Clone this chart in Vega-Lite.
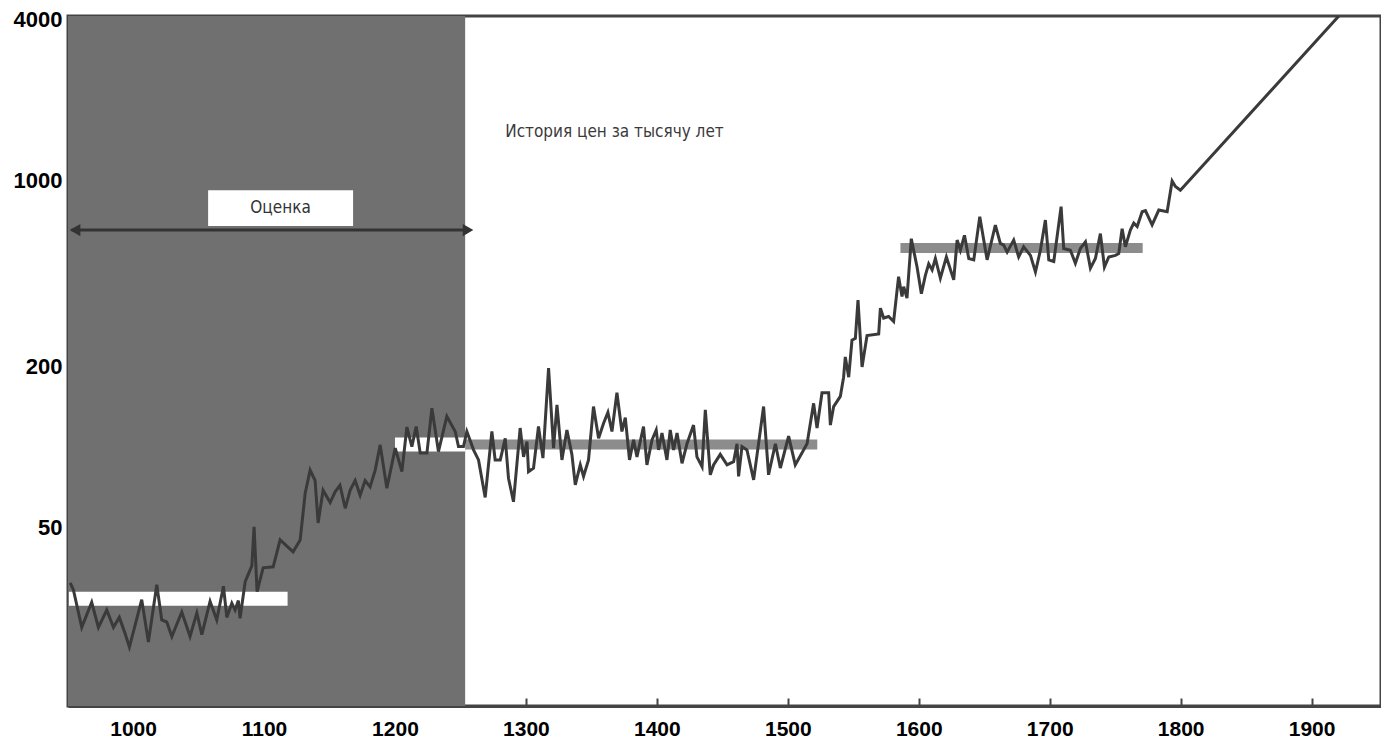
{
  "$schema": "https://vega.github.io/schema/vega-lite/v6.json",
  "width": 1313,
  "height": 690,
  "padding": {"left": 68, "top": 16, "right": 0, "bottom": 35},
  "autosize": {"type": "none"},
  "background": "#ffffff",
  "config": {
    "view": {"stroke": "#444444", "strokeWidth": 3},
    "axis": {
      "grid": false,
      "title": null,
      "labelFont": "Liberation Sans",
      "labelFontWeight": "bold",
      "labelFontSize": 21,
      "labelColor": "#000000",
      "tickColor": "#444444",
      "tickWidth": 2,
      "tickSize": -8,
      "domainColor": "#444444",
      "domainWidth": 3
    }
  },
  "datasets": {
    "prices": [
      {"year": 952.0, "price": 31.0},
      {"year": 954.4, "price": 29.2},
      {"year": 960.8, "price": 21.1},
      {"year": 968.4, "price": 26.2},
      {"year": 973.5, "price": 21.1},
      {"year": 979.9, "price": 24.5},
      {"year": 985.0, "price": 21.1},
      {"year": 989.5, "price": 23.0},
      {"year": 993.9, "price": 20.0},
      {"year": 997.2, "price": 17.8},
      {"year": 1006.6, "price": 26.8},
      {"year": 1011.7, "price": 18.6},
      {"year": 1018.1, "price": 30.5},
      {"year": 1021.9, "price": 22.5},
      {"year": 1025.7, "price": 22.1},
      {"year": 1029.6, "price": 19.5},
      {"year": 1037.2, "price": 24.1},
      {"year": 1043.5, "price": 19.5},
      {"year": 1048.7, "price": 23.9},
      {"year": 1052.5, "price": 19.8},
      {"year": 1058.8, "price": 26.4},
      {"year": 1063.9, "price": 22.5},
      {"year": 1069.0, "price": 30.1},
      {"year": 1071.6, "price": 23.0},
      {"year": 1075.4, "price": 26.0},
      {"year": 1077.9, "price": 24.5},
      {"year": 1080.4, "price": 26.6},
      {"year": 1081.7, "price": 22.8},
      {"year": 1085.6, "price": 31.3},
      {"year": 1090.7, "price": 35.9},
      {"year": 1092.4, "price": 50.3},
      {"year": 1094.7, "price": 28.7},
      {"year": 1099.3, "price": 35.3},
      {"year": 1107.0, "price": 35.6},
      {"year": 1112.3, "price": 44.9},
      {"year": 1122.2, "price": 40.5},
      {"year": 1127.6, "price": 44.9},
      {"year": 1131.4, "price": 67},
      {"year": 1135.2, "price": 82},
      {"year": 1139.0, "price": 75},
      {"year": 1141.3, "price": 52},
      {"year": 1145.1, "price": 69},
      {"year": 1150.5, "price": 62},
      {"year": 1154.3, "price": 68},
      {"year": 1158.0, "price": 72},
      {"year": 1162.0, "price": 59},
      {"year": 1165.8, "price": 69},
      {"year": 1169.6, "price": 75},
      {"year": 1173.4, "price": 66},
      {"year": 1177.2, "price": 75},
      {"year": 1181.0, "price": 71},
      {"year": 1184.9, "price": 82},
      {"year": 1188.7, "price": 102},
      {"year": 1193.8, "price": 70.2},
      {"year": 1200.2, "price": 99.2},
      {"year": 1205.3, "price": 81.0},
      {"year": 1209.1, "price": 119},
      {"year": 1212.9, "price": 100.5},
      {"year": 1216.2, "price": 119.5},
      {"year": 1219.3, "price": 95},
      {"year": 1224.4, "price": 95},
      {"year": 1228.2, "price": 140},
      {"year": 1233.2, "price": 96.3},
      {"year": 1239.6, "price": 130.5},
      {"year": 1246.0, "price": 114.5},
      {"year": 1248.5, "price": 100.5},
      {"year": 1252.3, "price": 100.5},
      {"year": 1254.9, "price": 114.5},
      {"year": 1260.0, "price": 97.7},
      {"year": 1263.8, "price": 89.6},
      {"year": 1268.9, "price": 64.8},
      {"year": 1274.0, "price": 114.5},
      {"year": 1276.5, "price": 89.6},
      {"year": 1280.4, "price": 89.6},
      {"year": 1284.2, "price": 108},
      {"year": 1286.7, "price": 76.5},
      {"year": 1290.5, "price": 62.4},
      {"year": 1295.6, "price": 118},
      {"year": 1298.2, "price": 92},
      {"year": 1300.8, "price": 105},
      {"year": 1302.0, "price": 81},
      {"year": 1305.8, "price": 83.5},
      {"year": 1309.6, "price": 119.5},
      {"year": 1313.0, "price": 91},
      {"year": 1317.3, "price": 198},
      {"year": 1321.1, "price": 99.2},
      {"year": 1323.7, "price": 144},
      {"year": 1327.5, "price": 89.6},
      {"year": 1331.3, "price": 116},
      {"year": 1335.1, "price": 94},
      {"year": 1337.7, "price": 72.2},
      {"year": 1341.5, "price": 85.8},
      {"year": 1344.0, "price": 77.7},
      {"year": 1347.8, "price": 89.6},
      {"year": 1351.6, "price": 142},
      {"year": 1355.5, "price": 108},
      {"year": 1359.3, "price": 123},
      {"year": 1362.6, "price": 135},
      {"year": 1365.7, "price": 114.5},
      {"year": 1369.5, "price": 160},
      {"year": 1373.3, "price": 114.5},
      {"year": 1375.9, "price": 129},
      {"year": 1379.1, "price": 89.6},
      {"year": 1382.2, "price": 106.5},
      {"year": 1384.8, "price": 92},
      {"year": 1389.8, "price": 119.5},
      {"year": 1392.4, "price": 85.8},
      {"year": 1396.3, "price": 106.5},
      {"year": 1399.5, "price": 116},
      {"year": 1401.3, "price": 97.7},
      {"year": 1403.9, "price": 113},
      {"year": 1407.7, "price": 89.6},
      {"year": 1410.2, "price": 116},
      {"year": 1412.8, "price": 97.7},
      {"year": 1415.4, "price": 113},
      {"year": 1419.2, "price": 87},
      {"year": 1423.0, "price": 103},
      {"year": 1428.0, "price": 121},
      {"year": 1430.6, "price": 92},
      {"year": 1434.5, "price": 84.5},
      {"year": 1437.0, "price": 138},
      {"year": 1440.8, "price": 78.8},
      {"year": 1443.3, "price": 85.8},
      {"year": 1448.4, "price": 94},
      {"year": 1453.6, "price": 85.8},
      {"year": 1458.6, "price": 88.2},
      {"year": 1461.2, "price": 103},
      {"year": 1462.4, "price": 77.7},
      {"year": 1465.0, "price": 100.5},
      {"year": 1468.8, "price": 97.7},
      {"year": 1473.9, "price": 75.4},
      {"year": 1481.5, "price": 142},
      {"year": 1485.3, "price": 78.8},
      {"year": 1490.5, "price": 103},
      {"year": 1494.3, "price": 83.5},
      {"year": 1500.6, "price": 110},
      {"year": 1505.7, "price": 85.8},
      {"year": 1514.7, "price": 103},
      {"year": 1519.7, "price": 146},
      {"year": 1522.3, "price": 118},
      {"year": 1526.1, "price": 160},
      {"year": 1531.2, "price": 160},
      {"year": 1532.5, "price": 121},
      {"year": 1535.0, "price": 142},
      {"year": 1540.1, "price": 155},
      {"year": 1542.6, "price": 183},
      {"year": 1543.9, "price": 218},
      {"year": 1546.5, "price": 183},
      {"year": 1549.0, "price": 252},
      {"year": 1551.6, "price": 256},
      {"year": 1553.6, "price": 356},
      {"year": 1556.7, "price": 200},
      {"year": 1560.5, "price": 262},
      {"year": 1569.4, "price": 266},
      {"year": 1570.7, "price": 332},
      {"year": 1573.2, "price": 305},
      {"year": 1577.0, "price": 309},
      {"year": 1580.8, "price": 296},
      {"year": 1584.6, "price": 436},
      {"year": 1587.2, "price": 367},
      {"year": 1588.5, "price": 400},
      {"year": 1591.0, "price": 362},
      {"year": 1594.3, "price": 605},
      {"year": 1598.7, "price": 474},
      {"year": 1602.0, "price": 376},
      {"year": 1605.0, "price": 440},
      {"year": 1607.6, "price": 487},
      {"year": 1610.2, "price": 462},
      {"year": 1612.7, "price": 510},
      {"year": 1616.5, "price": 430},
      {"year": 1621.1, "price": 517},
      {"year": 1626.7, "price": 424},
      {"year": 1629.3, "price": 598},
      {"year": 1631.8, "price": 548},
      {"year": 1634.9, "price": 623},
      {"year": 1638.2, "price": 510},
      {"year": 1642.0, "price": 504},
      {"year": 1646.6, "price": 732},
      {"year": 1652.2, "price": 504},
      {"year": 1658.5, "price": 681},
      {"year": 1662.3, "price": 581},
      {"year": 1664.9, "price": 572},
      {"year": 1667.5, "price": 539},
      {"year": 1672.5, "price": 598},
      {"year": 1676.3, "price": 517},
      {"year": 1680.1, "price": 564},
      {"year": 1685.3, "price": 524},
      {"year": 1689.1, "price": 454},
      {"year": 1692.9, "price": 548},
      {"year": 1696.7, "price": 711},
      {"year": 1699.3, "price": 504},
      {"year": 1703.1, "price": 497},
      {"year": 1708.7, "price": 798},
      {"year": 1710.7, "price": 556},
      {"year": 1715.8, "price": 548},
      {"year": 1719.6, "price": 489},
      {"year": 1723.4, "price": 556},
      {"year": 1727.3, "price": 589},
      {"year": 1731.1, "price": 469},
      {"year": 1734.9, "price": 510},
      {"year": 1738.7, "price": 632},
      {"year": 1741.8, "price": 474},
      {"year": 1745.1, "price": 517},
      {"year": 1750.2, "price": 524},
      {"year": 1752.7, "price": 532},
      {"year": 1755.3, "price": 660},
      {"year": 1757.8, "price": 564},
      {"year": 1761.6, "price": 652},
      {"year": 1764.2, "price": 692},
      {"year": 1766.8, "price": 672},
      {"year": 1770.6, "price": 764},
      {"year": 1773.1, "price": 771},
      {"year": 1778.2, "price": 682},
      {"year": 1783.3, "price": 775},
      {"year": 1789.7, "price": 764},
      {"year": 1793.5, "price": 995},
      {"year": 1796.0, "price": 950},
      {"year": 1799.8, "price": 920},
      {"year": 1920.8, "price": 4140}
    ]
  },
  "encoding": {
    "x": {
      "type": "quantitative",
      "scale": {"domain": [950.3, 1953], "nice": false, "zero": false},
      "axis": {"values": [1000, 1100, 1200, 1300, 1400, 1500, 1600, 1700, 1800, 1900], "format": "d", "labelPadding": 20}
    },
    "y": {
      "type": "quantitative",
      "scale": {"type": "log", "domain": [10.7, 4140], "nice": false},
      "axis": {"values": [50, 200, 1000, 4000], "format": "d", "labelPadding": 14, "labelFontSize": 22}
    }
  },
  "layer": [
    {
      "data": {"values": [{"from": 950.3, "to": 1253.6}]},
      "mark": {"type": "rect", "color": "#707070"},
      "encoding": {"x": {"field": "from"}, "x2": {"field": "to"}}
    },
    {
      "data": {"values": [{"from": 951, "to": 1118, "level": 27.0}, {"from": 1200, "to": 1253.6, "level": 102.3}]},
      "mark": {"type": "rule", "color": "#ffffff", "strokeWidth": 14, "strokeCap": "butt"},
      "encoding": {"x": {"field": "from"}, "x2": {"field": "to"}, "y": {"field": "level"}}
    },
    {
      "data": {"values": [{"from": 1253.6, "to": 1522.5, "level": 102.3}, {"from": 1586, "to": 1771, "level": 558}]},
      "mark": {"type": "rule", "color": "#8c8c8c", "strokeWidth": 10, "strokeCap": "butt"},
      "encoding": {"x": {"field": "from"}, "x2": {"field": "to"}, "y": {"field": "level"}}
    },
    {
      "data": {"name": "prices"},
      "mark": {"type": "line", "color": "#3a3a3a", "strokeWidth": 3, "clip": true},
      "encoding": {"x": {"field": "year"}, "y": {"field": "price"}}
    },
    {
      "data": {"values": [{"from": 953, "to": 1257, "level": 652}]},
      "mark": {"type": "rule", "color": "#333333", "strokeWidth": 3},
      "encoding": {"x": {"field": "from"}, "x2": {"field": "to"}, "y": {"field": "level"}}
    },
    {
      "data": {"values": [{"at": 955.7, "level": 652, "dir": "left"}, {"at": 1255.8, "level": 652, "dir": "right"}]},
      "mark": {"type": "point", "filled": true, "color": "#333333", "size": 150, "opacity": 1},
      "encoding": {
        "x": {"field": "at"},
        "y": {"field": "level"},
        "shape": {"field": "dir", "type": "nominal", "scale": {"domain": ["left", "right"], "range": ["triangle-left", "triangle-right"]}, "legend": null}
      }
    },
    {
      "data": {"values": [{"from": 1057.3, "to": 1168, "low": 675, "high": 920}]},
      "mark": {"type": "rect", "color": "#ffffff"},
      "encoding": {"x": {"field": "from"}, "x2": {"field": "to"}, "y": {"field": "low"}, "y2": {"field": "high"}}
    },
    {
      "data": {"values": [{"at": 1112.6, "level": 787, "label": "Оценка"}]},
      "mark": {"type": "text", "font": "DejaVu Sans Condensed, Roboto, sans-serif", "fontSize": 17, "color": "#333333", "align": "center", "baseline": "middle"},
      "encoding": {"x": {"field": "at"}, "y": {"field": "level"}, "text": {"field": "label"}}
    },
    {
      "data": {"values": [{"at": 1284.2, "level": 1521, "label": "История цен за тысячу лет"}]},
      "mark": {"type": "text", "font": "DejaVu Sans Condensed, Roboto, sans-serif", "fontSize": 17, "color": "#3a3a3a", "align": "left", "baseline": "middle"},
      "encoding": {"x": {"field": "at"}, "y": {"field": "level"}, "text": {"field": "label"}}
    }
  ]
}
